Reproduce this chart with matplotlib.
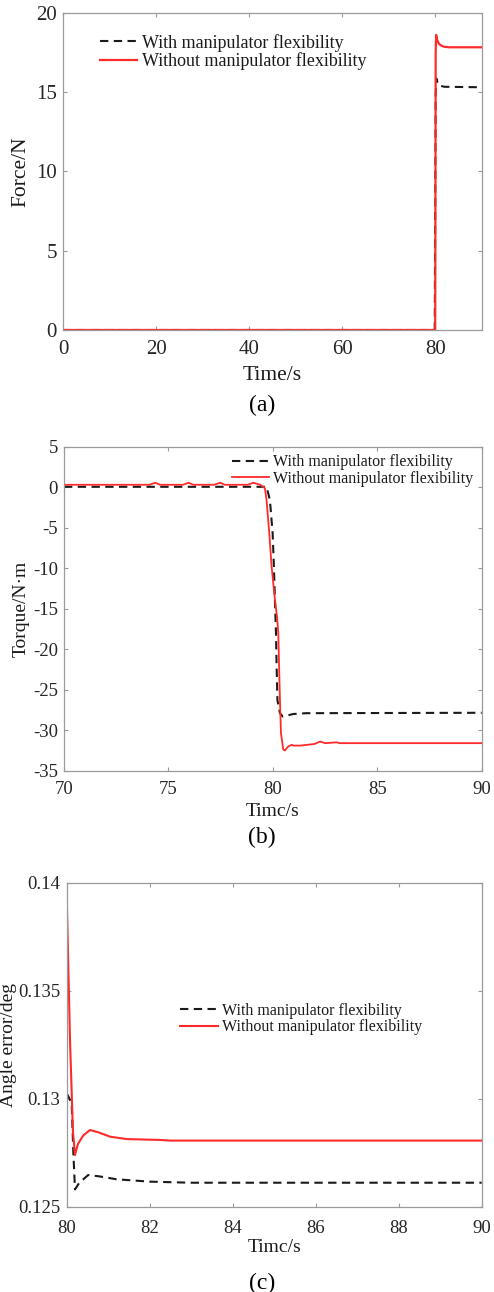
#!/usr/bin/python3

import matplotlib
matplotlib.use("Agg")
import matplotlib.pyplot as plt

#data

#(a) contact force
t_force_flex = [0, 79.9, 80.1, 80.25, 80.6, 81.0, 82.0, 90]
force_flex = [0, 0, 14.8, 15.85, 15.5, 15.4, 15.33, 15.3]
t_force_rigid = [0, 80.0, 80.1, 80.2, 80.4, 80.7, 81.0, 81.5, 82.0, 83.0, 90]
force_rigid = [0, 0, 17.5, 18.6, 18.3, 18.1, 17.98, 17.9, 17.85, 17.82, 17.82]

#(b) torque
t_torque_flex = [70, 79.7, 79.86, 79.99, 80.05, 80.1, 80.15, 80.18, 80.22, 80.34,
                 80.47, 80.66, 80.98, 81.6, 90]
torque_flex = [0.05, 0.05, -1.6, -5.7, -9.8, -13.9, -18.0, -22.1, -26.3, -27.9,
               -28.3, -28.2, -28.0, -27.9, -27.85]
t_torque_rigid = [70, 74.1, 74.36, 74.6, 75.7, 75.96, 76.2, 77.2, 77.47, 77.7,
                  78.8, 79.06, 79.4, 79.62, 79.7, 79.83, 79.94, 80.1, 80.2,
                  80.26, 80.3, 80.34, 80.39, 80.5, 80.58, 80.74, 80.9, 80.98,
                  81.3, 82.0, 82.26, 82.5, 83.06, 83.2, 90]
torque_rigid = [0.3, 0.3, 0.55, 0.3, 0.3, 0.55, 0.3, 0.3, 0.55, 0.3,
                0.3, 0.55, 0.3, -0.14, -1.6, -5.7, -9.8, -13.9, -16.0,
                -18.0, -22.2, -26.3, -30.4, -32.4, -32.5, -32.0, -31.8, -31.9,
                -31.9, -31.7, -31.4, -31.6, -31.5, -31.6, -31.6]

#(c) angle error
t_angle_flex = [80.0, 80.12, 80.16, 80.2, 80.3, 80.52, 80.8, 81.2, 82.0, 83.0, 90]
angle_flex = [0.13025, 0.1298, 0.1275, 0.1258, 0.1261, 0.12647, 0.1264, 0.12627,
              0.12616, 0.12611, 0.12611]
t_angle_rigid = [80.0, 80.08, 80.15, 80.2, 80.27, 80.4, 80.56, 80.75, 81.05,
                 81.45, 82.25, 82.5, 90]
angle_rigid = [0.13935, 0.1327, 0.1285, 0.12739, 0.1279, 0.1283, 0.12855, 0.12845,
               0.12824, 0.12813, 0.12809, 0.12806, 0.12806]

lab_flex = "With manipulator flexibility"
lab_rigid = "Without manipulator flexibility"

W = 494.
H = 1292.

red = "#ff2b2b"
blk = "#1a1a1a"
gray = "#9a9a9a"

#_____________________________________________________________________________
def main():

    plt.rcParams["font.family"] = ["Liberation Serif", "DejaVu Serif"]
    plt.rcParams["axes.unicode_minus"] = False

    fig = plt.figure(figsize=(W/100, H/100), dpi=100)

    #panel (a)
    ax = make_axes(fig, 63.3, 481.7, 12.7, 330)
    ax.plot(t_force_flex, force_flex, color=blk, lw=1.5, dashes=(4, 2.6), label=lab_flex)
    ax.plot(t_force_rigid, force_rigid, color=red, lw=1.6, label=lab_rigid)
    ax.set_xlim(0, 90)
    ax.set_ylim(0, 20)
    ax.set_xticks([0, 20, 40, 60, 80])
    ax.set_yticks([0, 5, 10, 15, 20])
    style_axes(ax, 15, 7.5)
    put_labels(fig, ax, "Time/s", "Force/N", 63.3, 481.7, 12.7, 330, 375, 21, 15.5, 15.5)
    put_legend(fig, ax, 100, 52, 13, 2.05)
    fig.text(262/W, 1-405/H, "(a)", ha="center", va="center", fontsize=17)

    #panel (b)
    ax = make_axes(fig, 64, 481.7, 446.7, 770.7)
    ax.plot(t_torque_flex, torque_flex, color=blk, lw=1.5, dashes=(4, 2.6), label=lab_flex)
    ax.plot(t_torque_rigid, torque_rigid, color=red, lw=1.3, label=lab_rigid)
    ax.set_xlim(70, 90)
    ax.set_ylim(-35, 5)
    ax.set_xticks([70, 75, 80, 85, 90])
    ax.set_yticks(range(-35, 6, 5))
    style_axes(ax, 13.5, 7.5)
    put_labels(fig, ax, "Timc/s", "Torque/N·m", 64, 481.7, 446.7, 770.7, 811, 21, 14, 14)
    put_legend(fig, ax, 232, 470.5, 11.5, 2.3)
    fig.text(262/W, 1-837/H, "(b)", ha="center", va="center", fontsize=17)

    #panel (c)
    ax = make_axes(fig, 66.7, 481.7, 882.7, 1206.7)
    ax.plot(t_angle_flex, angle_flex, color=blk, lw=1.5, dashes=(4, 2.6), label=lab_flex)
    ax.plot(t_angle_rigid, angle_rigid, color=red, lw=1.5, label=lab_rigid)
    ax.set_xlim(80, 90)
    ax.set_ylim(0.125, 0.14)
    ax.set_xticks([80, 82, 84, 86, 88, 90])
    ax.set_yticks([0.125, 0.13, 0.135, 0.14])
    ax.set_yticklabels(["0.125", "0.13", "0.135", "0.14"])
    style_axes(ax, 13.5, 9.5)
    put_labels(fig, ax, "Timc/s", "Angle error/deg", 66.7, 481.7, 882.7, 1206.7, 1248, 8, 14, 14)
    put_legend(fig, ax, 180, 1019, 11.5, 2.4)
    fig.text(262/W, 1-1283/H, "(c)", ha="center", va="center", fontsize=17)

    fig.savefig("out.png", dpi=100)
    plt.close()

#main

#_____________________________________________________________________________
def make_axes(fig, left, right, top, bottom):

    return fig.add_axes([left/W, 1-bottom/H, (right-left)/W, (bottom-top)/H])

#make_axes

#_____________________________________________________________________________
def style_axes(ax, tsize, xpad):

    for s in ax.spines.values():
        s.set_color(gray)
        s.set_linewidth(0.9)

    ax.tick_params(which="both", direction="in", top=True, right=True, length=3,
                   width=0.8, color=gray, labelcolor="#262626", labelsize=tsize)
    ax.tick_params(axis="x", pad=xpad)
    ax.tick_params(axis="y", pad=4.5)

#style_axes

#_____________________________________________________________________________
def put_labels(fig, ax, xlab, ylab, left, right, top, bottom, xly, ylx, xsize, ysize):

    ax.set_xlabel(xlab, fontsize=xsize, color="#1a1a1a", va="center")
    ax.xaxis.set_label_coords(0.5, (bottom-xly)/(bottom-top))

    ax.set_ylabel(ylab, fontsize=ysize, color="#1a1a1a", va="center")
    ax.yaxis.set_label_coords((ylx-left)/(right-left), 0.5)

#put_labels

#_____________________________________________________________________________
def put_legend(fig, ax, x0, ymid, size, hlen):

    ax.legend(loc="center left", bbox_to_anchor=(x0/W, 1-ymid/H), bbox_transform=fig.transFigure,
              frameon=False, fontsize=size, handlelength=hlen, handletextpad=0.25,
              borderpad=0, borderaxespad=0, labelspacing=0.05, labelcolor="#1a1a1a")

#put_legend

#_____________________________________________________________________________
if __name__ == "__main__":

    main()
